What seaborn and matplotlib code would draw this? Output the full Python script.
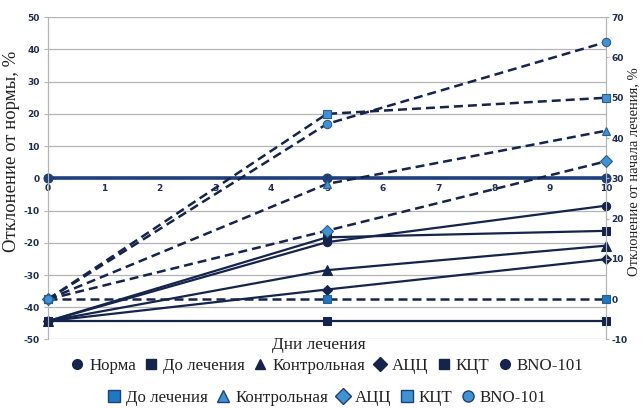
import matplotlib
matplotlib.use("Agg")
import matplotlib.pyplot as plt
from matplotlib.lines import Line2D
import seaborn as sns

days = [0, 5, 10]

# left axis: deviation from norm, %
norma = [0, 0, 0]
do_lech = [-44.3, -44.3, -44.3]
kontr = [-44.3, -28.5, -20.9]
acc = [-44.3, -34.5, -25.1]
kct = [-44.3, -18.3, -16.3]
bno = [-44.3, -19.8, -8.5]

# right axis: deviation from treatment start, %
do_lech_r = [0, 0, 0]
kontr_r = [0, 28.6, 41.8]
acc_r = [0, 17.0, 34.2]
kct_r = [0, 46.0, 50.0]
bno_r = [0, 43.5, 63.8]

names = ["Норма", "До лечения", "Контрольная", "АЦЦ", "КЦТ", "BNO-101"]
names_r = ["До лечения", "Контрольная", "АЦЦ", "КЦТ", "BNO-101"]

NAVY = "#15244c"
NORM = "#1f3f7a"
LIGHT = "#3f93d3"
TICK = "#1f2d50"
GRID = "#b4b4b4"
SERIF = "Liberation Serif"


def main():
    sns.set_style("white")
    plt.rcParams["axes.unicode_minus"] = False
    fig = plt.figure(figsize=(6.41, 4.09), dpi=100)
    ax = fig.add_axes([0.075, 0.170, 0.870, 0.788])
    ax2 = ax.twinx()

    left = [norma, do_lech, kontr, acc, kct, bno]
    marks = ["o", "s", "^", "D", "s", "o"]
    sizes = [6.5, 6, 6.5, 5.5, 6, 6]
    for i, (vals, m) in enumerate(zip(left, marks)):
        col = NORM if i == 0 else NAVY
        lw = 2.6 if i == 0 else 1.6
        sns.lineplot(x=days, y=vals, ax=ax, color=col, lw=lw, marker=m,
                     markersize=sizes[i], markeredgecolor=col, legend=False,
                     clip_on=False, zorder=3)

    right = [do_lech_r, kontr_r, acc_r, kct_r, bno_r]
    marks_r = ["s", "^", "D", "s", "o"]
    faces_r = ["#1e78c2", LIGHT, LIGHT, LIGHT, LIGHT]
    for vals, m, fc in zip(right, marks_r, faces_r):
        sns.lineplot(x=days, y=vals, ax=ax2, color=NAVY, lw=1.8,
                     linestyle=(0, (3.6, 2.0)), marker=m, markersize=6,
                     markerfacecolor=fc, markeredgecolor="#2a5d95",
                     markeredgewidth=0.8, legend=False, clip_on=False, zorder=3)

    ax.set_xlim(0, 10)
    ax.set_ylim(-50, 50)
    ax.set_yticks(range(-50, 51, 10))
    ax.set_xticks(range(0, 11))
    ax2.set_ylim(-10, 70)
    ax2.set_yticks(range(-10, 71, 10))

    ax.grid(axis="y", color=GRID, lw=0.9)
    ax.grid(axis="x", visible=False)
    ax.set_axisbelow(True)
    ax.spines["bottom"].set_position(("data", 0))
    for a in (ax, ax2):
        a.spines["left"].set_color(GRID)
        a.spines["right"].set_color(GRID)
        a.spines["top"].set_visible(False)
        a.spines["bottom"].set_visible(False)

    ax.tick_params(axis="y", length=3, color=GRID, labelsize=6.5,
                   labelcolor=TICK, pad=3)
    ax2.tick_params(axis="y", length=2.5, color=GRID, labelsize=6.5,
                    labelcolor=TICK, pad=1.5)
    for a in (ax, ax2):
        for t in a.get_yticklabels():
            t.set_fontweight("bold")
    ax.tick_params(axis="x", length=2, color=GRID, labelsize=6.5,
                   labelcolor=TICK, pad=2)
    for t in ax.get_xticklabels():
        t.set_fontweight("bold")

    ax.set_xlabel("")
    ax.set_ylabel("Отклонение от нормы, %", family=SERIF, fontsize=13.5,
                  color="#222222")
    ax.yaxis.set_label_coords(-0.05, 0.585)
    ax2.set_ylabel("Отклонение от начала лечения, %", family=SERIF,
                   fontsize=10.5, color="#222222", rotation=90)
    ax2.yaxis.set_label_coords(1.062, 0.52)
    ax2.yaxis.label.set_rotation_mode("anchor")
    ax2.yaxis.label.set_va("bottom")

    fig.text(0.497, 1 - 345 / 409, "Дни лечения", family=SERIF, fontsize=12.5,
             color="#222222", ha="center", va="center")

    h1 = [Line2D([], [], ls="none", marker=m, markersize=7,
                 color=NAVY, markeredgecolor=NAVY) for m in marks]
    h2 = [Line2D([], [], ls="none", marker=m, markersize=8,
                 markerfacecolor=fc, markeredgecolor="#1f3f7a",
                 markeredgewidth=1.0) for m, fc in zip(marks_r, faces_r)]
    kw = dict(frameon=False, handlelength=0.8, handletextpad=0.3,
              columnspacing=0.5, prop={"family": SERIF, "size": 12.2},
              labelcolor="#222222", loc="center")
    fig.legend(h1, names, ncol=6, bbox_to_anchor=(0.51, 1 - 366 / 409), **kw)
    fig.legend(h2, names_r, ncol=5, bbox_to_anchor=(0.51, 1 - 398 / 409), **kw)

    fig.savefig("out.png", dpi=100)


if __name__ == "__main__":
    main()
